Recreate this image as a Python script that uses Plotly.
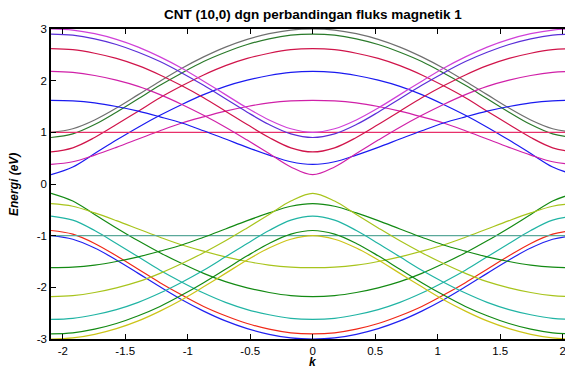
import plotly.graph_objects as go

# k grid (wave vector)
k = [-2.094, -1.920, -1.745, -1.571, -1.396, -1.222, -1.047, -0.873, -0.698, -0.524, -0.349, -0.175,
     0.000, 0.175, 0.349, 0.524, 0.698, 0.873, 1.047, 1.222, 1.396, 1.571, 1.745, 1.920, 2.094]

# conduction bands (E > 0)
cb_gray = [1.00,1.07,1.24,1.47,1.73,1.99,2.24,2.46,2.65,2.80,2.91,2.98,3.00,2.98,2.91,2.80,2.65,2.46,2.24,1.99,1.73,1.47,1.24,1.07,1.00]
cb_green = [0.90,0.97,1.15,1.39,1.65,1.91,2.15,2.37,2.55,2.70,2.81,2.88,2.90,2.88,2.81,2.70,2.55,2.37,2.15,1.91,1.65,1.39,1.15,0.97,0.90]
cb_crimson1 = [0.62,0.70,0.90,1.15,1.41,1.67,1.90,2.11,2.29,2.43,2.53,2.60,2.62,2.60,2.53,2.43,2.29,2.11,1.90,1.67,1.41,1.15,0.90,0.70,0.62]
cb_blue1 = [0.18,0.33,0.59,0.85,1.10,1.33,1.54,1.73,1.89,2.01,2.10,2.16,2.18,2.16,2.10,2.01,1.89,1.73,1.54,1.33,1.10,0.85,0.59,0.33,0.18]
cb_magenta1 = [0.38,0.43,0.56,0.71,0.87,1.03,1.18,1.30,1.41,1.50,1.57,1.61,1.62,1.61,1.57,1.50,1.41,1.30,1.18,1.03,0.87,0.71,0.56,0.43,0.38]
cb_flat = [1.00]*25
cb_blue2 = [1.62,1.61,1.57,1.50,1.41,1.30,1.18,1.03,0.87,0.71,0.56,0.43,0.38,0.43,0.56,0.71,0.87,1.03,1.18,1.30,1.41,1.50,1.57,1.61,1.62]
cb_magenta2 = [2.18,2.16,2.10,2.01,1.89,1.73,1.54,1.33,1.10,0.85,0.59,0.33,0.18,0.33,0.59,0.85,1.10,1.33,1.54,1.73,1.89,2.01,2.10,2.16,2.18]
cb_crimson2 = [2.62,2.60,2.53,2.43,2.29,2.11,1.90,1.67,1.41,1.15,0.90,0.70,0.62,0.70,0.90,1.15,1.41,1.67,1.90,2.11,2.29,2.43,2.53,2.60,2.62]
cb_purple = [2.90,2.88,2.81,2.70,2.55,2.37,2.15,1.91,1.65,1.39,1.15,0.97,0.90,0.97,1.15,1.39,1.65,1.91,2.15,2.37,2.55,2.70,2.81,2.88,2.90]
cb_violet = [3.00,2.98,2.91,2.80,2.65,2.46,2.24,1.99,1.73,1.47,1.24,1.07,1.00,1.07,1.24,1.47,1.73,1.99,2.24,2.46,2.65,2.80,2.91,2.98,3.00]

# valence bands (E < 0)
vb_blue = [-1.00,-1.07,-1.24,-1.47,-1.73,-1.99,-2.24,-2.46,-2.65,-2.80,-2.91,-2.98,-3.00,-2.98,-2.91,-2.80,-2.65,-2.46,-2.24,-1.99,-1.73,-1.47,-1.24,-1.07,-1.00]
vb_red = [-0.90,-0.97,-1.15,-1.39,-1.65,-1.91,-2.15,-2.37,-2.55,-2.70,-2.81,-2.88,-2.90,-2.88,-2.81,-2.70,-2.55,-2.37,-2.15,-1.91,-1.65,-1.39,-1.15,-0.97,-0.90]
vb_teal1 = [-0.62,-0.70,-0.90,-1.15,-1.41,-1.67,-1.90,-2.11,-2.29,-2.43,-2.53,-2.60,-2.62,-2.60,-2.53,-2.43,-2.29,-2.11,-1.90,-1.67,-1.41,-1.15,-0.90,-0.70,-0.62]
vb_green1 = [-0.18,-0.33,-0.59,-0.85,-1.10,-1.33,-1.54,-1.73,-1.89,-2.01,-2.10,-2.16,-2.18,-2.16,-2.10,-2.01,-1.89,-1.73,-1.54,-1.33,-1.10,-0.85,-0.59,-0.33,-0.18]
vb_lime1 = [-0.38,-0.43,-0.56,-0.71,-0.87,-1.03,-1.18,-1.30,-1.41,-1.50,-1.57,-1.61,-1.62,-1.61,-1.57,-1.50,-1.41,-1.30,-1.18,-1.03,-0.87,-0.71,-0.56,-0.43,-0.38]
vb_flat = [-1.00]*25
vb_green2 = [-1.62,-1.61,-1.57,-1.50,-1.41,-1.30,-1.18,-1.03,-0.87,-0.71,-0.56,-0.43,-0.38,-0.43,-0.56,-0.71,-0.87,-1.03,-1.18,-1.30,-1.41,-1.50,-1.57,-1.61,-1.62]
vb_lime2 = [-2.18,-2.16,-2.10,-2.01,-1.89,-1.73,-1.54,-1.33,-1.10,-0.85,-0.59,-0.33,-0.18,-0.33,-0.59,-0.85,-1.10,-1.33,-1.54,-1.73,-1.89,-2.01,-2.10,-2.16,-2.18]
vb_teal2 = [-2.62,-2.60,-2.53,-2.43,-2.29,-2.11,-1.90,-1.67,-1.41,-1.15,-0.90,-0.70,-0.62,-0.70,-0.90,-1.15,-1.41,-1.67,-1.90,-2.11,-2.29,-2.43,-2.53,-2.60,-2.62]
vb_green3 = [-2.90,-2.88,-2.81,-2.70,-2.55,-2.37,-2.15,-1.91,-1.65,-1.39,-1.15,-0.97,-0.90,-0.97,-1.15,-1.39,-1.65,-1.91,-2.15,-2.37,-2.55,-2.70,-2.81,-2.88,-2.90]
vb_yellow = [-3.00,-2.98,-2.91,-2.80,-2.65,-2.46,-2.24,-1.99,-1.73,-1.47,-1.24,-1.07,-1.00,-1.07,-1.24,-1.47,-1.73,-1.99,-2.24,-2.46,-2.65,-2.80,-2.91,-2.98,-3.00]

x_ticks = [-2, -1.5, -1, -0.5, 0, 0.5, 1, 1.5, 2]
x_tick_labels = ["-2", "-1.5", "-1", "-0.5", "0", "0.5", "1", "1.5", "2"]
y_ticks = [-3, -2, -1, 0, 1, 2, 3]
y_tick_labels = ["-3", "-2", "-1", "0", "1", "2", "3"]

bands = [
    (cb_gray, "#707070"), (cb_green, "#2a7a2a"), (cb_crimson1, "#d0144a"),
    (cb_blue1, "#1a1af0"), (cb_magenta1, "#d020a8"), (cb_flat, "#e8306a"),
    (cb_blue2, "#1a1af0"), (cb_magenta2, "#d020a8"), (cb_crimson2, "#d0144a"),
    (cb_purple, "#5a2ed8"), (cb_violet, "#d040d8"),
    (vb_blue, "#2020f0"), (vb_red, "#f02818"), (vb_teal1, "#20b4a4"),
    (vb_green1, "#138a13"), (vb_lime1, "#a8c41c"), (vb_flat, "#5aa89a"),
    (vb_green2, "#138a13"), (vb_lime2, "#a8c41c"), (vb_teal2, "#20b4a4"),
    (vb_green3, "#138a13"), (vb_yellow, "#ccc418"),
]

fig = go.Figure()
for ys, col in bands:
    fig.add_trace(go.Scatter(x=k, y=ys, mode="lines",
                             line=dict(color=col, width=1.2, shape="spline", smoothing=1.0),
                             hoverinfo="skip", showlegend=False))

font_main = "Liberation Sans, Arial, Helvetica, sans-serif"
fig.update_layout(
    width=565, height=374,
    margin=dict(l=51, r=0, t=29, b=35),
    paper_bgcolor="white", plot_bgcolor="white",
    font=dict(family=font_main, size=11, color="black"),
    showlegend=False,
)
fig.update_xaxes(range=[-2.0944, 2.019], tickvals=x_ticks, ticktext=x_tick_labels,
                 ticks="inside", ticklen=5, tickcolor="black", tickwidth=1,
                 showline=True, linecolor="black", linewidth=1.5, mirror="ticks",
                 showgrid=False, zeroline=False, tickfont=dict(size=11.5),
                 ticklabeloverflow="allow")
fig.update_yaxes(range=[-3, 3], tickvals=y_ticks, ticktext=y_tick_labels,
                 ticks="inside", ticklen=5, tickcolor="black", tickwidth=1,
                 showline=True, linecolor="black", linewidth=1.5, mirror=False,
                 showgrid=False, zeroline=False, tickfont=dict(size=11.5))

fig.add_annotation(text="<b>CNT (10,0) dgn perbandingan fluks magnetik 1</b>",
                   xref="paper", yref="paper", x=0.509, y=1.048, showarrow=False,
                   xanchor="center", yanchor="middle", font=dict(size=13.5, family=font_main))
fig.add_annotation(text="<b><i>Energi (eV)</i></b>", xref="paper", yref="paper",
                   x=-0.072, y=0.5, textangle=-90, showarrow=False,
                   xanchor="center", yanchor="middle", font=dict(size=12, family=font_main))
fig.add_annotation(text="<b><i>k</i></b>", xref="paper", yref="paper",
                   x=0.509, y=-0.074, showarrow=False,
                   xanchor="center", yanchor="middle", font=dict(size=12, family=font_main))

fig.write_html("out.html")
